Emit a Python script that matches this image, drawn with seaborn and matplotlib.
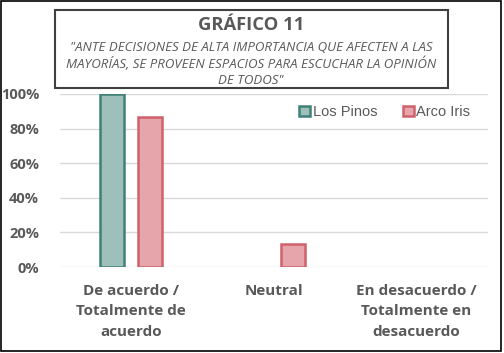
import pandas as pd
import seaborn as sns
import matplotlib.pyplot as plt
from matplotlib.patches import Rectangle, Patch
from matplotlib.ticker import PercentFormatter

categorias = ["De acuerdo /\nTotalmente de\nacuerdo", "Neutral", "En desacuerdo /\nTotalmente en\ndesacuerdo"]
los_pinos = [1.0, 0.0, 0.0]
arco_iris = [0.867, 0.133, 0.0]
grupos = ["Los Pinos", "Arco Iris"]

data = pd.DataFrame({
    "Categoria": categorias * 2,
    "Grupo": [grupos[0]] * 3 + [grupos[1]] * 3,
    "Valor": los_pinos + arco_iris,
})

sns.set_style("white")
plt.rcParams["font.family"] = ["Open Sans", "DejaVu Sans"]

fig = plt.figure(figsize=(5.04, 3.53), dpi=100)
ax = fig.add_axes([0.119, 0.2436, 0.849, 0.4904])

bordes = {"Los Pinos": "#3f8077", "Arco Iris": "#d0606a"}
rellenos = {"Los Pinos": "#9dc0ba", "Arco Iris": "#e5a5ab"}

sns.barplot(data=data, x="Categoria", y="Valor", hue="Grupo", palette=rellenos,
            saturation=1, width=0.532, gap=0.37, ax=ax, legend=False, zorder=3)
for patch, g in zip(ax.patches, [grupos[0]] * 3 + [grupos[1]] * 3):
    patch.set_edgecolor(bordes[g])
    patch.set_linewidth(1.8)
    if patch.get_height() == 0:
        patch.set_visible(False)

ax.set_ylim(0, 1)
ax.set_xlim(-0.5, 2.5)
ax.yaxis.set_major_formatter(PercentFormatter(1.0, decimals=0))
ax.set_yticks([0, 0.2, 0.4, 0.6, 0.8, 1.0])
ax.grid(axis="y", color="#d9d9d9", linewidth=1, zorder=0)
ax.set_axisbelow(True)
for s in ax.spines.values():
    s.set_visible(False)
ax.set_xlabel("")
ax.set_ylabel("")
ax.tick_params(axis="both", length=0, colors="#595959")
ax.tick_params(axis="y", pad=15)
ax.tick_params(axis="x", pad=12)
for lbl in ax.get_yticklabels():
    lbl.set_fontsize(10.5)
    lbl.set_fontweight("bold")
for lbl in ax.get_xticklabels():
    lbl.set_fontsize(11)
    lbl.set_fontweight("bold")
    lbl.set_linespacing(1.6)

# leyenda
handles = [Patch(facecolor=rellenos[g], edgecolor=bordes[g], linewidth=1.8) for g in grupos]
leg = ax.legend(handles, grupos, loc="upper right", bbox_to_anchor=(0.99, 1.01), ncol=2,
                frameon=False, handlelength=0.7, handleheight=0.7, handletextpad=0.2,
                columnspacing=1.8, prop={"family": "Liberation Sans", "size": 10.5})
for t in leg.get_texts():
    t.set_color("#595959")

# recuadro del titulo
fig.patches.append(Rectangle((55 / 504, 1 - 88 / 353), 393 / 504, 78 / 353,
                             transform=fig.transFigure, facecolor="white",
                             edgecolor="#404040", linewidth=1.5, zorder=5))
fig.text(251 / 504, 1 - 25 / 353, "GRÁFICO 11", ha="center", va="center",
         fontsize=13.2, fontweight="bold", color="#595959", zorder=6)
fig.text(251 / 504, 1 - 64 / 353,
         "\"ANTE DECISIONES DE ALTA IMPORTANCIA QUE AFECTEN A LAS\n"
         "MAYORÍAS, SE PROVEEN ESPACIOS PARA ESCUCHAR LA OPINIÓN\n"
         "DE TODOS\"", ha="center", va="center", fontsize=9.5,
         style="italic", color="#595959", linespacing=1.25, zorder=6)

# borde exterior
fig.patches.append(Rectangle((0.5 / 504, 1 - 351 / 353), 500 / 504, 350.5 / 353,
                             transform=fig.transFigure, facecolor="none",
                             edgecolor="black", linewidth=1.2, zorder=10))

fig.savefig("out.png", dpi=100)
